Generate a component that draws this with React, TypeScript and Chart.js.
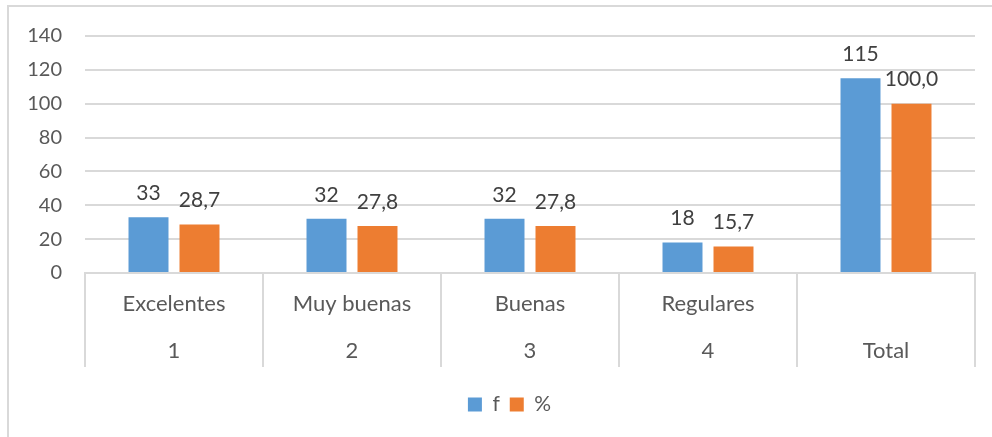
import React, { useEffect, useRef } from "react";
import { Chart, registerables } from "chart.js";

Chart.register(...registerables);

const categories = ["Excelentes", "Muy buenas", "Buenas", "Regulares", ""];
const groupLabels = ["1", "2", "3", "4", "Total"];
const seriesNames = ["f", "%"];
const fValues = [33, 32, 32, 18, 115];
const pctValues = [28.7, 27.8, 27.8, 15.7, 100.0];
const yMin = 0;
const yMax = 140;
const yStep = 20;

const FONT = "Lato, 'Open Sans', sans-serif";
const BLUE = "#5B9BD5";
const ORANGE = "#ED7D31";
const GRID = "#D9D9D9";
const TICK = "#595959";
const LABEL = "#404040";

const dataLabels = {
  id: "dataLabels",
  afterDatasetsDraw(chart: any) {
    const ctx = chart.ctx;
    ctx.save();
    ctx.font = `21px ${FONT}`;
    ctx.fillStyle = LABEL;
    ctx.textAlign = "center";
    ctx.textBaseline = "middle";
    chart.data.datasets.forEach((ds: any, di: number) => {
      const meta = chart.getDatasetMeta(di);
      meta.data.forEach((bar: any, i: number) => {
        const v = ds.data[i] as number;
        const text = di === 0 ? String(v) : v.toFixed(1).replace(".", ",");
        ctx.fillText(text, bar.x, bar.y - 24);
      });
    });
    ctx.restore();
  },
};

// Center the legend under the plot area (as in the reference) rather than the canvas
const legendShift = {
  id: "legendShift",
  afterLayout(chart: any) {
    const lg = chart.legend;
    if (!lg) return;
    const shift = 22;
    lg.left += shift;
    lg.right += shift;
  },
};

export default function App() {
  const ref = useRef<HTMLCanvasElement | null>(null);
  useEffect(() => {
    if (!ref.current) return;
    const labels = categories.map((c, i) => [c, groupLabels[i]]);
    const chart = new Chart(ref.current, {
      type: "bar",
      data: {
        labels,
        datasets: [
          {
            label: seriesNames[0],
            data: fValues,
            backgroundColor: BLUE,
            categoryPercentage: 0.573,
            barPercentage: 0.784,
          },
          {
            label: seriesNames[1],
            data: pctValues,
            backgroundColor: ORANGE,
            categoryPercentage: 0.573,
            barPercentage: 0.784,
          },
        ],
      },
      options: {
        responsive: false,
        animation: false,
        layout: { padding: { top: 36, right: 17, bottom: 12, left: 0 } },
        plugins: {
          legend: {
            position: "bottom",
            labels: {
              boxWidth: 14,
              boxHeight: 14,
              padding: 10,
              color: TICK,
              font: { family: FONT, size: 21 },
            },
          },
          tooltip: { enabled: false },
        },
        scales: {
          x: {
            grid: {
              offset: true,
              drawOnChartArea: false,
              drawTicks: true,
              tickLength: 94,
              color: GRID,
              lineWidth: 2,
            },
            border: { display: true, color: GRID, width: 2 },
            ticks: {
              color: TICK,
              font: { family: FONT, size: 22, lineHeight: 2.14 },
              padding: -86.5,
              maxRotation: 0,
              autoSkip: false,
            },
            afterFit(scale: any) {
              scale.height = 111;
            },
          },
          y: {
            min: yMin,
            max: yMax,
            grid: { color: GRID, lineWidth: 2, drawTicks: false },
            border: { display: false },
            ticks: {
              stepSize: yStep,
              color: TICK,
              padding: 23,
              font: { family: FONT, size: 20 },
            },
            afterFit(scale: any) {
              scale.width = 85;
            },
          },
        },
      },
      plugins: [dataLabels, legendShift],
    });
    return () => chart.destroy();
  }, []);

  return (
    <div
      style={{
        position: "absolute",
        left: 0,
        top: 0,
        width: 992,
        height: 437,
        overflow: "hidden",
        background: "#fff",
      }}
    >
      <div
        style={{
          position: "absolute",
          left: 7,
          top: 5,
          width: 1100,
          height: 600,
          borderLeft: `2px solid ${GRID}`,
          borderTop: `2px solid ${GRID}`,
        }}
      />
      <canvas
        ref={ref}
        width={992}
        height={437}
        style={{ position: "absolute", left: 0, top: 0, display: "block" }}
      />
    </div>
  );
}
